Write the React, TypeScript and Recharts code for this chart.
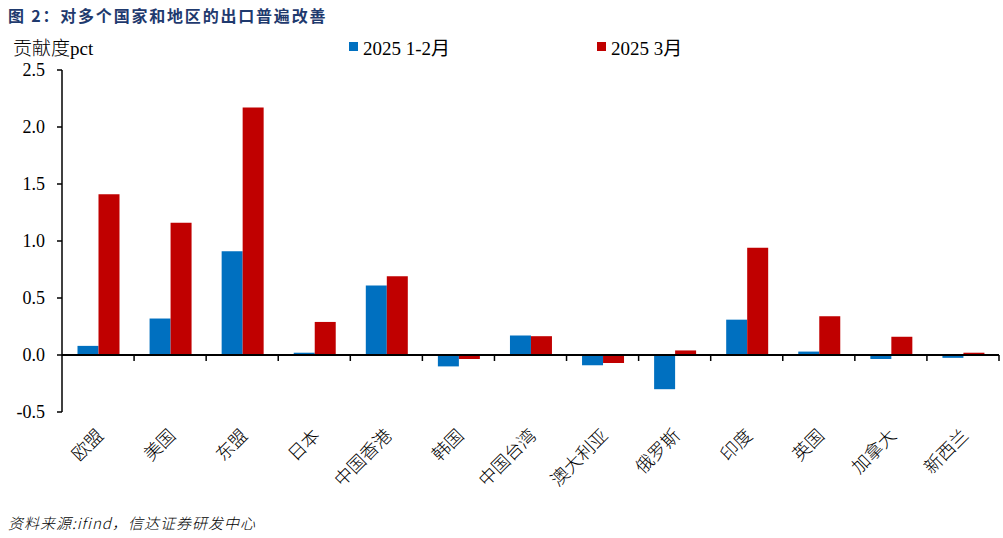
import React from 'react';
import { BarChart, Bar, XAxis, YAxis, ReferenceLine } from 'recharts';

// 出口贡献度（pct）
const categories = ['欧盟', '美国', '东盟', '日本', '中国香港', '韩国', '中国台湾', '澳大利亚', '俄罗斯', '印度', '英国', '加拿大', '新西兰'];
const janFeb = [0.08, 0.32, 0.91, 0.02, 0.61, -0.1, 0.17, -0.09, -0.3, 0.31, 0.03, -0.035, -0.025];
const march = [1.41, 1.16, 2.17, 0.29, 0.69, -0.035, 0.165, -0.07, 0.04, 0.94, 0.34, 0.16, 0.02];
const yTicks = [-0.5, 0, 0.5, 1, 1.5, 2, 2.5];
const seriesNames = ['2025 1-2月', '2025 3月'];

const BLUE = '#0070C0';
const RED = '#C00000';
const SERIF = '"Liberation Serif", "Times New Roman", "Noto Sans CJK SC", serif';
const CJK = '"Noto Sans CJK SC", "Liberation Serif", sans-serif';

const data = categories.map((name, i) => ({
  name,
  a: janFeb[i],
  b: march[i],
}));

// 类目标签：逆时针旋转45度
const CategoryTick = (props: any) => {
  const { x, y, payload } = props;
  const ax = x + 1;
  const ay = y + 19;
  return (
    <text
      x={ax}
      y={ay}
      textAnchor="end"
      dominantBaseline="central"
      transform={`rotate(-45, ${ax}, ${ay})`}
      fontSize={18}
      fontWeight={300}
      fontFamily={CJK}
      fill="#000"
    >
      {payload.value}
    </text>
  );
};

const ValueTick = (props: any) => {
  const { x, y, payload } = props;
  return (
    <text x={x} y={y} textAnchor="end" dominantBaseline="central" fontSize={18} fontFamily={SERIF} fill="#000">
      {Number(payload.value).toFixed(1)}
    </text>
  );
};

// 零轴线 + 类目分隔刻度
const ZeroLine = (props: any) => {
  const { x1, x2, y1 } = props;
  const n = categories.length;
  const step = (x2 - x1) / n;
  const marks = [];
  for (let k = 1; k <= n; k++) {
    const tx = x1 + step * k;
    marks.push(<line key={k} x1={tx} x2={tx} y1={y1} y2={y1 + 6} stroke="#000" strokeWidth={1.5} />);
  }
  return (
    <g>
      <line x1={x1} x2={x2} y1={y1} y2={y1} stroke="#000" strokeWidth={2} />
      {marks}
    </g>
  );
};

export default function App() {
  return (
    <div style={{ position: 'absolute', left: 0, top: 0, width: 1003, height: 538, background: '#fff' }}>
      <div
        style={{
          position: 'absolute',
          left: 8,
          top: 3,
          fontFamily: CJK,
          fontWeight: 700,
          fontSize: 16,
          letterSpacing: 1.8,
          color: '#1f3a6e',
          whiteSpace: 'nowrap',
        }}
      >
        图 2：对多个国家和地区的出口普遍改善
      </div>
      <div
        style={{
          position: 'absolute',
          left: 13,
          top: 33,
          fontFamily: SERIF,
          fontSize: 19,
          color: '#000',
          whiteSpace: 'nowrap',
        }}
      >
        <span style={{ fontFamily: CJK, fontWeight: 300 }}>贡献度</span>pct
      </div>

      {/* 图例 */}
      {seriesNames.map((s, i) => (
        <div
          key={s}
          style={{
            position: 'absolute',
            left: i === 0 ? 349 : 597,
            top: 33,
            display: 'flex',
            alignItems: 'center',
            fontFamily: SERIF,
            fontSize: 19,
            whiteSpace: 'nowrap',
          }}
        >
          <span style={{ display: 'inline-block', width: 9, height: 9, background: i === 0 ? BLUE : RED, marginRight: 5 }} />
          {s}
        </div>
      ))}

      <BarChart
        width={1003}
        height={538}
        data={data}
        margin={{ top: 70, right: 4, bottom: 26, left: 12 }}
        barCategoryGap="21.5%"
        barGap={0}
        style={{ fontFamily: SERIF }}
      >
        <XAxis
          dataKey="name"
          axisLine={false}
          tickLine={false}
          tickSize={0}
          tickMargin={0}
          interval={0}
          height={100}
          tick={<CategoryTick />}
        />
        <YAxis
          domain={[-0.5, 2.5]}
          ticks={yTicks}
          interval={0}
          width={50}
          tickSize={5}
          tickMargin={12}
          axisLine={{ stroke: '#000', strokeWidth: 1.5 }}
          tickLine={{ stroke: '#000', strokeWidth: 1.5 }}
          tick={<ValueTick />}
        />
        <Bar dataKey="a" name={seriesNames[0]} fill={BLUE} isAnimationActive={false} />
        <Bar dataKey="b" name={seriesNames[1]} fill={RED} isAnimationActive={false} />
        <ReferenceLine y={0} shape={<ZeroLine />} />
      </BarChart>

      <div
        style={{
          position: 'absolute',
          left: 8,
          top: 512,
          fontFamily: CJK,
          fontStyle: 'italic',
          fontWeight: 300,
          fontSize: 15,
          letterSpacing: 1,
          color: '#000',
          whiteSpace: 'nowrap',
        }}
      >
        资料来源:ifind，信达证券研发中心
      </div>
    </div>
  );
}
